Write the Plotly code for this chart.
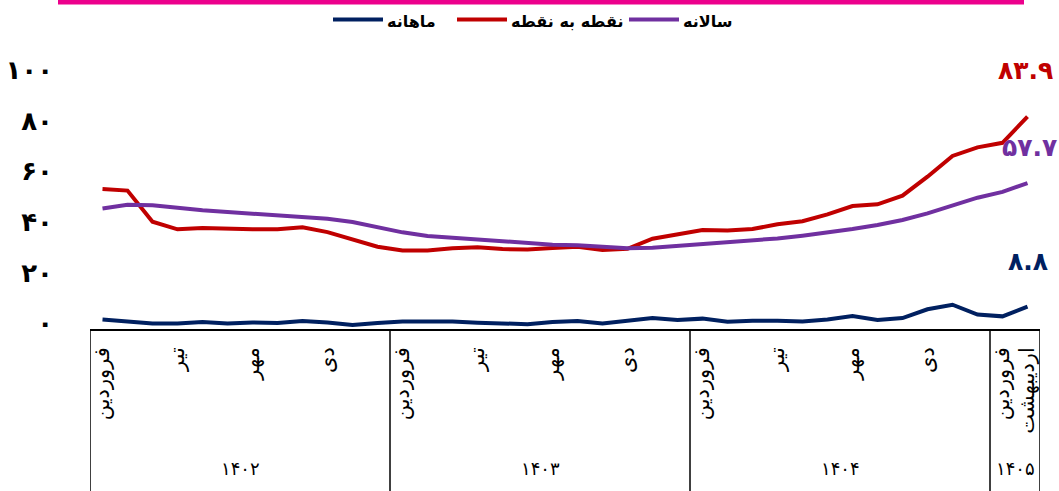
import plotly.graph_objects as go

# Solar Hijri months and years on the horizontal axis
months = ["فروردین", "اردیبهشت", "خرداد", "تیر", "مرداد", "شهریور",
          "مهر", "آبان", "آذر", "دی", "بهمن", "اسفند"]
years = ["۱۴۰۲", "۱۴۰۳", "۱۴۰۴", "۱۴۰۵"]
months_per_year = [12, 12, 12, 2]

# Inflation rates (percent)
monthly = [3.8, 3.0, 2.2, 2.2, 2.8, 2.2, 2.6, 2.4, 3.2, 2.6, 1.6, 2.4,
           3.0, 3.0, 3.0, 2.5, 2.2, 1.9, 2.8, 3.2, 2.2, 3.2, 4.3, 3.6,
           4.1, 2.9, 3.3, 3.3, 3.0, 3.8, 5.1, 3.6, 4.3, 7.8, 9.6, 5.7,
           5.0, 8.8]
point_to_point = [55.3, 54.7, 42.4, 39.4, 39.9, 39.5, 39.4, 39.4, 40.2, 38.3, 35.6, 32.5,
                  31.0, 31.0, 31.9, 32.3, 31.6, 31.4, 32.0, 32.5, 31.2, 31.7, 35.7, 37.4,
                  39.1, 38.9, 39.5, 41.4, 42.6, 45.3, 48.6, 49.3, 52.7, 60.2, 68.4, 71.8,
                  73.6, 83.9]
annual = [47.6, 49.1, 48.9, 47.8, 46.9, 46.2, 45.5, 44.8, 44.4, 43.6, 42.3, 40.2,
          38.2, 36.8, 36.1, 35.5, 34.7, 34.0, 33.3, 33.1, 32.4, 31.9, 32.1, 32.8,
          33.5, 34.1, 34.9, 35.8, 36.9, 38.1, 39.5, 41.1, 43.1, 45.7, 48.9, 51.9,
          54.2, 57.7]

y_ticks = [0, 20, 40, 60, 80, 100]

series_names = ["ماهانه", "نقطه به نقطه", "سالانه"]
series_colors = ["#002060", "#C00000", "#7030A0"]
series_values = [monthly, point_to_point, annual]

FA_DIGITS = str.maketrans("0123456789", "۰۱۲۳۴۵۶۷۸۹")


def fa(value):
    return str(value).translate(FA_DIGITS)


# Build the month sequence for each year
period_months = []
for count in months_per_year:
    period_months.extend(months[:count])
x_idx = list(range(len(period_months)))

# Labelled months: every third month plus the final month
tick_idx = [i for i in x_idx if i % 3 == 0 or i == x_idx[-1]]
tick_text = [period_months[i] for i in tick_idx]

W, H = 1059, 491
M_L, M_R, M_T, M_B = 90, 19, 76, 162
PLOT_W = W - M_L - M_R
PLOT_H = H - M_T - M_B


def paper_x(px):
    return (px - M_L) / PLOT_W


def paper_y(py):
    return (H - M_B - py) / PLOT_H


fig = go.Figure()
for name, color, values in zip(series_names, series_colors, series_values):
    fig.add_trace(go.Scatter(
        x=x_idx, y=values, name=name, mode="lines",
        line=dict(color=color, width=4),
        cliponaxis=False, showlegend=False,
    ))

shapes = []
annotations = []

# Year group dividers and year labels under the axis
start = 0
for year, count in zip(years, months_per_year):
    left = start - 0.5
    right = start + count - 0.5
    shapes.append(dict(type="line", xref="x", yref="paper",
                       x0=left, x1=left, y0=0, y1=paper_y(H),
                       line=dict(color="black", width=1.5)))
    annotations.append(dict(xref="x", yref="paper", x=(left + right) / 2,
                            y=paper_y(468), text=year, showarrow=False,
                            font=dict(family="DejaVu Sans", size=18, color="black"),
                            xanchor="center", yanchor="middle"))
    start += count
shapes.append(dict(type="line", xref="x", yref="paper",
                   x0=start - 0.5, x1=start - 0.5, y0=0, y1=paper_y(H),
                   line=dict(color="black", width=1.5)))

# Header band
shapes.append(dict(type="rect", xref="paper", yref="paper",
                   x0=paper_x(58), x1=paper_x(1024), y0=paper_y(4.5), y1=paper_y(0),
                   fillcolor="#EC008C", line=dict(width=0)))

# Legend row: a line swatch followed by the series name
legend_swatch_left = [333, 457, 629]
for name, color, sx in zip(series_names, series_colors, legend_swatch_left):
    shapes.append(dict(type="line", xref="paper", yref="paper",
                       x0=paper_x(sx), x1=paper_x(sx + 50),
                       y0=paper_y(19.5), y1=paper_y(19.5),
                       line=dict(color=color, width=4)))
    annotations.append(dict(xref="paper", yref="paper", x=paper_x(sx + 52),
                            y=paper_y(22), text=name, showarrow=False,
                            font=dict(family="DejaVu Sans", size=16, color="black",
                                      weight="bold"),
                            xanchor="left", yanchor="middle"))

# Latest-value labels
last = x_idx[-1]
label_offsets = {"ماهانه": (0, 45), "نقطه به نقطه": (-2, 46), "سالانه": (2, 36)}
for name, color, values in zip(series_names, series_colors, series_values):
    dx, dy = label_offsets[name]
    annotations.append(dict(xref="x", yref="y", x=last, y=values[-1],
                            text=fa(values[-1]), showarrow=False,
                            xshift=dx, yshift=dy,
                            font=dict(family="DejaVu Sans", size=25, color=color,
                                      weight="bold"),
                            xanchor="center", yanchor="middle"))

fig.update_layout(
    width=W, height=H,
    margin=dict(l=M_L, r=M_R, t=M_T, b=M_B, autoexpand=False),
    paper_bgcolor="white", plot_bgcolor="white",
    showlegend=False,
    shapes=shapes,
    annotations=annotations,
    xaxis=dict(range=[-0.5, last + 0.5], tickmode="array", tickvals=tick_idx,
               ticktext=tick_text, tickangle=-90, ticks="",
               tickfont=dict(family="DejaVu Sans", size=21, color="black"),
               showgrid=False, zeroline=False, showline=True,
               linecolor="black", linewidth=1.5, ticklabelstandoff=8,
               automargin=False),
    yaxis=dict(range=[0, 100], tickmode="array", tickvals=y_ticks,
               ticktext=[fa(v) for v in y_ticks], ticks="",
               tickfont=dict(family="DejaVu Sans", size=26, color="black",
                             weight="bold"),
               showgrid=False, zeroline=False, showline=False,
               ticklabelstandoff=36, ticklabelshift=-6, automargin=False),
)

fig.write_html("out.html")
